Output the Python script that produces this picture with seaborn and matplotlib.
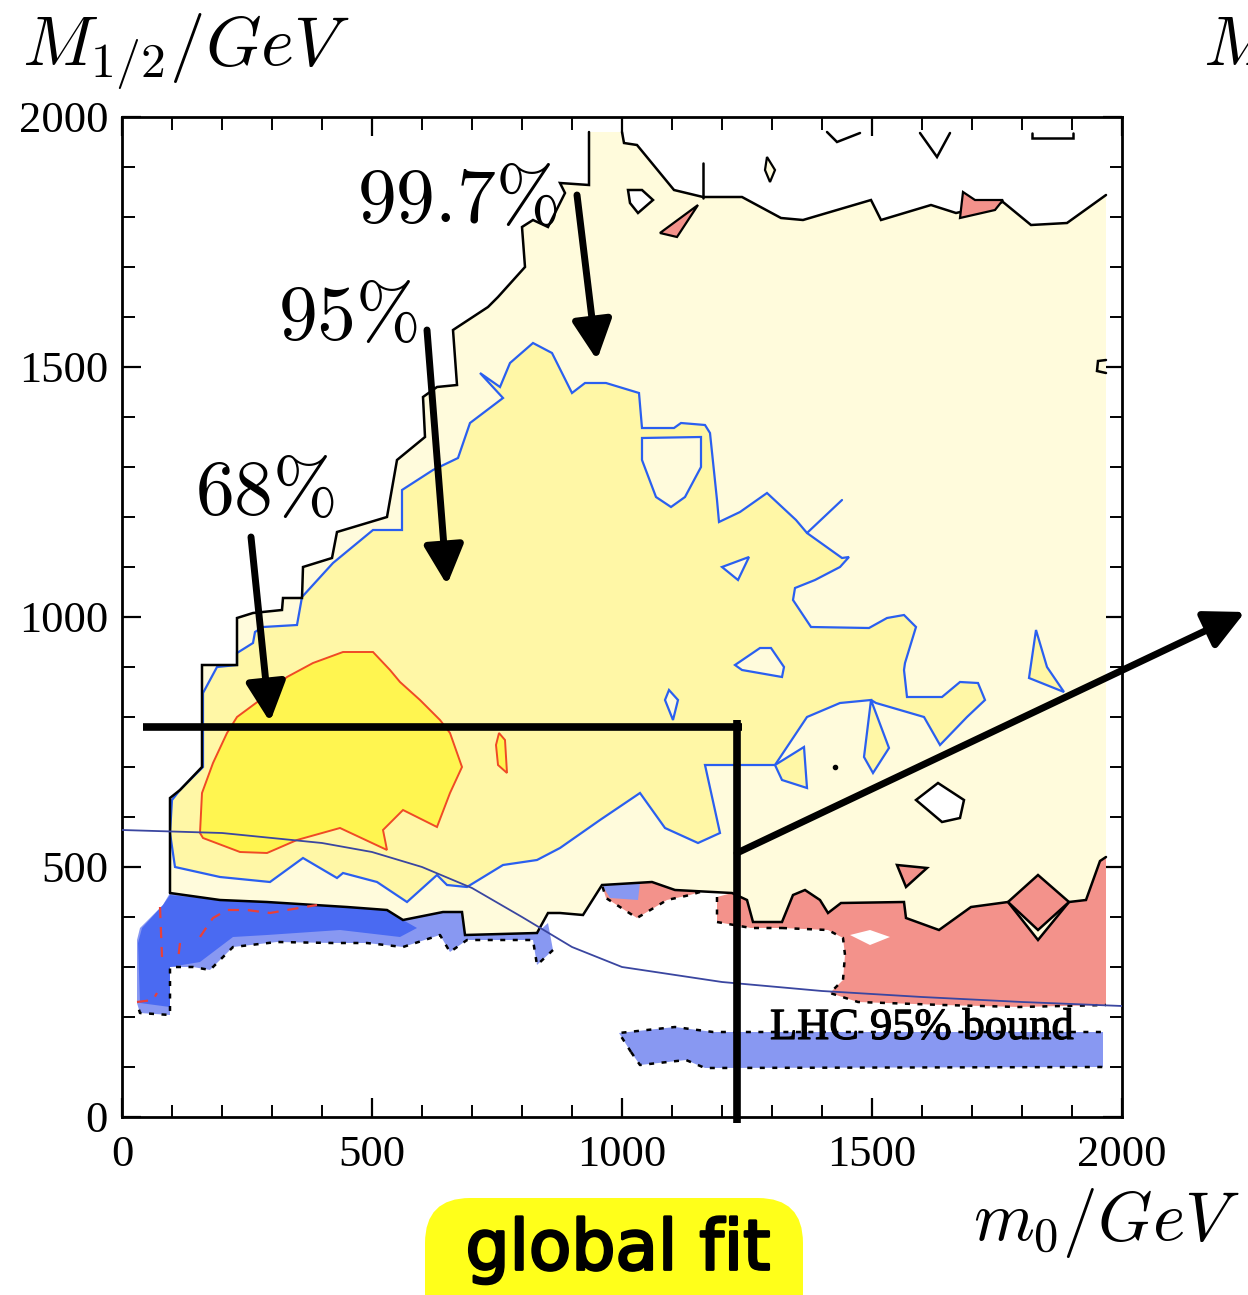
import numpy as np
import pandas as pd
import matplotlib
matplotlib.use("Agg")
import matplotlib.pyplot as plt
import matplotlib.patheffects as pe
import seaborn as sns
from matplotlib.ticker import MultipleLocator
from matplotlib.patches import FancyBboxPatch

# ---------------- data (GeV) ----------------
CL997_LEFT = [(96, 448), (96, 638), (116, 654), (160, 700), (160, 904), (230, 904), (230, 998),
              (262, 1008), (320, 1014), (322, 1038), (360, 1038), (362, 1100), (420, 1118),
              (430, 1170), (530, 1200), (550, 1314), (606, 1360), (602, 1440), (630, 1460),
              (670, 1464), (662, 1574), (732, 1620), (752, 1640), (806, 1700), (800, 1780),
              (822, 1794), (852, 1780), (866, 1808), (886, 1848), (876, 1868), (934, 1864), (934, 1970)]
CL997_TOP = [(1000, 1970), (1004, 1948), (1030, 1944), (1104, 1854), (1162, 1840), (1240, 1840),
             (1318, 1798), (1362, 1794), (1498, 1834), (1518, 1794), (1618, 1824), (1668, 1808),
             (1762, 1830), (1818, 1784), (1890, 1788), (1968, 1844)]
CL997_BOTTOM = [(1968, 520), (1956, 512), (1928, 434), (1894, 430), (1832, 354), (1772, 430),
                (1698, 420), (1634, 374), (1568, 398), (1564, 430), (1438, 428), (1412, 408),
                (1396, 434), (1366, 454), (1342, 444), (1320, 390), (1262, 390), (1250, 434),
                (1220, 448), (1106, 454), (1060, 470), (960, 464), (922, 404), (876, 408),
                (852, 408), (830, 368), (686, 364), (680, 410), (642, 410), (562, 394), (530, 414),
                (450, 420), (290, 430), (196, 434), (96, 448)]

CL95 = [(162, 700), (162, 848), (190, 900), (230, 904), (230, 928), (262, 948), (266, 970),
        (282, 980), (350, 984), (360, 1040), (422, 1108), (502, 1174), (560, 1174), (560, 1254),
        (622, 1294), (672, 1318), (696, 1388), (762, 1438), (716, 1488), (756, 1460), (776, 1508),
        (822, 1548), (860, 1528), (900, 1448), (926, 1468), (968, 1468), (1034, 1448),
        (1040, 1378), (1104, 1378), (1118, 1388), (1166, 1384), (1176, 1368), (1190, 1234),
        (1194, 1190), (1236, 1210), (1290, 1248), (1348, 1194), (1370, 1168), (1440, 1118),
        (1454, 1120), (1436, 1100), (1386, 1074), (1346, 1058), (1342, 1034), (1378, 980),
        (1494, 978), (1530, 998), (1564, 1004), (1588, 980), (1566, 908), (1564, 894),
        (1570, 840), (1640, 840), (1676, 870), (1712, 868), (1726, 834), (1690, 800),
        (1636, 744), (1604, 800), (1508, 828), (1498, 834), (1534, 738), (1502, 688),
        (1484, 720), (1498, 834), (1436, 828), (1370, 800), (1306, 704), (1166, 704),
        (1196, 568), (1152, 548), (1086, 578), (1036, 648), (956, 594), (876, 538), (830, 514),
        (762, 504), (690, 460), (650, 464), (630, 484), (570, 430), (510, 470), (442, 488),
        (430, 478), (362, 518), (296, 470), (196, 480), (106, 500), (96, 568), (100, 634),
        (116, 654)]
CL95_HOLES = [
    [(1040, 1358), (1158, 1360), (1158, 1300), (1126, 1240), (1098, 1220), (1068, 1240), (1040, 1314)],
    [(1200, 1100), (1254, 1120), (1232, 1074)],
    [(1226, 904), (1276, 938), (1298, 938), (1324, 900), (1320, 880), (1240, 894)],
    [(1094, 854), (1112, 834), (1102, 794), (1086, 834)],
]
CL95_ISLANDS = [
    [(1306, 704), (1364, 740), (1370, 658), (1320, 674)],
    [(1828, 974), (1850, 900), (1884, 850), (1814, 878)],
]
CL95_SPUR = [(1370, 1168), (1440, 1234)]

CL68 = [(156, 568), (160, 648), (182, 708), (210, 768), (230, 800), (276, 834), (330, 880),
        (382, 908), (442, 930), (502, 930), (536, 894), (556, 870), (596, 834), (636, 794),
        (656, 768), (680, 700), (656, 648), (630, 580), (562, 614), (522, 574), (530, 534),
        (436, 578), (350, 554), (290, 528), (236, 530), (162, 558)]
CL68_ISLAND = [(754, 768), (766, 754), (770, 688), (752, 704), (748, 744)]

PINK_MAIN = [(1968, 520), (1956, 512), (1928, 434), (1894, 430), (1832, 354), (1772, 430),
             (1698, 420), (1634, 374), (1568, 398), (1564, 430), (1438, 428), (1412, 408),
             (1396, 434), (1366, 454), (1342, 444), (1320, 390), (1320, 378), (1412, 374),
             (1442, 358), (1446, 324), (1442, 274), (1416, 248), (1472, 230), (1642, 224),
             (1794, 220), (1968, 224)]
PINK_MAIN_DOTS = [(1320, 378), (1412, 374), (1442, 358), (1446, 324), (1442, 274), (1416, 248),
                  (1472, 230), (1642, 224), (1794, 220), (1968, 224)]
PINK_HOLE = [(1456, 364), (1496, 374), (1536, 360), (1496, 344)]
PINK_SMALL1 = [(960, 464), (1060, 470), (1106, 454), (1156, 450), (1136, 444), (1090, 434),
               (1030, 398), (968, 438)]
PINK_SMALL1_DOTS = [(1156, 450), (1136, 444), (1090, 434), (1030, 398), (968, 438), (960, 464)]
PINK_SMALL2 = [(1190, 440), (1220, 448), (1250, 434), (1262, 390), (1320, 390), (1320, 378),
               (1258, 378), (1190, 390)]
PINK_SMALL2_DOTS = [(1190, 440), (1190, 390), (1258, 378), (1320, 378)]
BLUE_BIT = [(960, 464), (1036, 468), (1032, 434), (976, 438)]
DIAMOND = [(1772, 430), (1832, 484), (1894, 430), (1832, 374)]
PINK_TRI = [(1550, 504), (1610, 498), (1568, 460)]
WHITE_PENTA = [(1588, 634), (1632, 668), (1684, 634), (1676, 598), (1640, 590)]

BLUE_LIGHT = [(36, 378), (82, 424), (96, 448), (196, 434), (290, 430), (450, 420), (530, 414),
              (562, 394), (642, 410), (680, 410), (686, 364), (830, 368), (852, 388), (862, 334),
              (830, 304), (822, 354), (690, 354), (656, 330), (636, 364), (562, 340), (490, 348),
              (422, 348), (310, 350), (222, 340), (176, 294), (142, 300), (96, 300), (96, 204),
              (36, 208), (30, 228), (30, 354)]
BLUE_LIGHT_DOTS = [(862, 334), (830, 304), (822, 354), (690, 354), (656, 330), (636, 364),
                   (562, 340), (490, 348), (422, 348), (310, 350), (222, 340), (176, 294),
                   (142, 300), (96, 300), (96, 204), (36, 208), (30, 228)]
BLUE_DARK = [(40, 378), (82, 424), (96, 444), (196, 434), (290, 430), (450, 420), (530, 414),
             (562, 394), (590, 378), (556, 360), (436, 374), (290, 364), (222, 360), (156, 310),
             (96, 300), (96, 220), (36, 228), (32, 348)]
BLUE_RIGHT = [(994, 168), (1106, 180), (1182, 170), (1962, 170), (1962, 100), (1166, 98),
              (1128, 114), (1036, 104), (1018, 130)]
BLUE_RIGHT_DOTS_TOP = [(1018, 130), (994, 168), (1106, 180), (1182, 170), (1962, 170)]
BLUE_RIGHT_DOTS_BOT = [(1018, 130), (1036, 104), (1128, 114), (1166, 98), (1962, 100)]
RED_DASHES = [
    [(76, 420), (80, 320)],
    [(116, 348), (112, 314)],
    [(156, 360), (176, 390), (182, 398), (210, 414), (250, 414), (296, 408), (330, 414), (390, 424)],
    [(30, 230), (62, 234), (70, 248)],
]

TOP_HOLES = [[(1012, 1854), (1040, 1854), (1062, 1834), (1032, 1808), (1016, 1828)]]
TOP_PINK = [[(1076, 1768), (1152, 1824), (1110, 1760)],
            [(1682, 1850), (1706, 1834), (1762, 1834), (1746, 1814), (1676, 1798)]]
TOP_ELLIPSE = [(1290, 1920), (1306, 1894), (1296, 1870), (1286, 1894)]
TOP_LINES = [[(1162, 1908), (1162, 1838)],
             [(1596, 1968), (1630, 1920), (1656, 1968)],
             [(1820, 1968), (1820, 1958), (1902, 1958), (1902, 1968)],
             [(1410, 1970), (1430, 1950), (1476, 1968)],
             [(1968, 1514), (1952, 1512), (1950, 1492), (1968, 1488)]]
DOT = (1426, 700)

LHC_M0 = [0, 200, 400, 500, 600, 700, 800, 900, 1000, 1200, 1400, 1600, 1800, 2000]
LHC_M12 = [574, 568, 548, 530, 500, 458, 400, 340, 300, 270, 252, 240, 230, 222]

ARROWS = [((910, 1844), (950, 1514)), ((610, 1574), (650, 1064)), ((258, 1160), (296, 790)),
          ((1230, 528), (2246, 1010))]
HLINE = [(42, 780), (1240, 780)]
VLINE = [(1230, 794), (1230, -12)]

CL_LABELS = [(r"$99.7\%$", 470, 1828), (r"$95\%$", 312, 1594), (r"$68\%$", 146, 1244)]

# ---------------- colours ----------------
C997 = "#fffbdc"
C95 = "#fff7a6"
C68 = "#fff550"
CPINK = "#f3928b"
CBLUE_D = "#4a6af2"
CBLUE_L = "#8898f2"
CLINE_BLUE = "#2a5ff0"
CLINE_RED = "#f04a25"
CLHC = "#3a46a0"

sns.set_theme(style="white")
plt.rcParams["mathtext.fontset"] = "cm"
plt.rcParams["font.family"] = ["Liberation Serif", "DejaVu Serif"]
plt.rcParams["text.color"] = "black"
plt.rcParams["xtick.color"] = "black"
plt.rcParams["ytick.color"] = "black"
plt.rcParams["axes.labelcolor"] = "black"

fig = plt.figure(figsize=(12.48, 12.95), dpi=100)
ax = fig.add_axes([122 / 1248, 1 - 1117 / 1295, 1000 / 1248, 1000 / 1295])
ax.set_xlim(0, 2000)
ax.set_ylim(0, 2000)


def arr(p):
    a = np.array(p, dtype=float)
    return a[:, 0], a[:, 1]


def poly(p, fc, ec="none", lw=0, z=1, ls="-"):
    x, y = arr(p)
    ax.fill(x, y, facecolor=fc, edgecolor=ec, linewidth=lw, zorder=z, linestyle=ls)


def line(p, color="black", lw=1.6, z=5, ls="-", dashes=None):
    x, y = arr(p)
    l, = ax.plot(x, y, color=color, lw=lw, zorder=z, linestyle=ls, solid_joinstyle="miter")
    if dashes is not None:
        l.set_dashes(dashes)


# 99.7 % region
poly(CL997_LEFT + CL997_TOP + CL997_BOTTOM, C997, z=1)
# pink / blue excluded regions
poly(PINK_MAIN, CPINK, z=1.5)
poly(PINK_HOLE, "white", z=1.6)
poly(PINK_SMALL1, CPINK, z=1.5)
poly(PINK_SMALL2, CPINK, z=1.5)
poly(BLUE_BIT, CBLUE_L, z=1.6)
poly(BLUE_LIGHT, CBLUE_L, z=1.5)
poly(BLUE_DARK, CBLUE_D, z=1.6)
poly(BLUE_RIGHT, CBLUE_L, z=1.5)
# 95 % region
poly(CL95, C95, CLINE_BLUE, 1.6, z=2)
for h in CL95_HOLES:
    poly(h, C997, CLINE_BLUE, 1.6, z=2.1)
for h in CL95_ISLANDS:
    poly(h, C95, CLINE_BLUE, 1.6, z=2.1)
line(CL95_SPUR, CLINE_BLUE, 1.6, z=2.2)
# 68 % region
poly(CL68, C68, CLINE_RED, 1.4, z=3)
poly(CL68_ISLAND, C68, CLINE_RED, 1.4, z=3)

# black outline of 99.7 % region
line(CL997_LEFT, lw=1.8)
line(CL997_TOP, lw=1.8)
line(CL997_BOTTOM, lw=1.8)
for h in TOP_HOLES:
    poly(h, "white", "black", 1.8, z=5)
for h in TOP_PINK:
    poly(h, CPINK, "black", 1.6, z=5)
poly(TOP_ELLIPSE, C997, "black", 1.6, z=5)
for l in TOP_LINES:
    line(l, lw=1.8)
poly(DIAMOND, CPINK, "black", 1.8, z=5)
poly(PINK_TRI, CPINK, "black", 1.8, z=5)
poly(WHITE_PENTA, "white", "black", 1.8, z=5)
ax.plot([DOT[0]], [DOT[1]], "o", color="black", ms=3, zorder=5)

# dotted borders
for d in [PINK_MAIN_DOTS, PINK_SMALL1_DOTS, PINK_SMALL2_DOTS, BLUE_LIGHT_DOTS,
          BLUE_RIGHT_DOTS_TOP, BLUE_RIGHT_DOTS_BOT]:
    line(d, lw=1.8, z=5, dashes=(2.0, 3.0))
for d in RED_DASHES:
    line(d, color="#e8403a", lw=1.6, z=5, dashes=(5, 4))

# LHC 95% bound curve
lhc = pd.DataFrame({"m0": LHC_M0, "m12": LHC_M12})
sns.lineplot(data=lhc, x="m0", y="m12", ax=ax, color=CLHC, lw=1.3, zorder=6, sort=True)
ax.text(1296, 178, "LHC 95% bound", fontsize=32, family=["Liberation Serif"], color="black",
        ha="left", va="center", zorder=7,
        path_effects=[pe.withStroke(linewidth=0.8, foreground="black")])

# annotation lines & arrows
for tail, head in ARROWS:
    ax.annotate("", xy=head, xytext=tail, xycoords="data", textcoords="data",
                annotation_clip=False, zorder=10,
                arrowprops=dict(arrowstyle="-|>", lw=5, color="black", mutation_scale=60,
                                shrinkA=0, shrinkB=0))
x, y = arr(HLINE)
ax.plot(x, y, color="black", lw=5.5, zorder=10, solid_capstyle="butt")
x, y = arr(VLINE)
ax.plot(x, y, color="black", lw=5.5, zorder=10, clip_on=False, solid_capstyle="butt")

for txt, xx, yy in CL_LABELS:
    ax.text(xx, yy, txt, fontsize=56, ha="left", va="center", zorder=11, color="black")

# axes styling
ax.set_xlabel("")
ax.set_ylabel("")
ax.set_xticks([0, 500, 1000, 1500, 2000])
ax.set_yticks([0, 500, 1000, 1500, 2000])
ax.xaxis.set_minor_locator(MultipleLocator(100))
ax.yaxis.set_minor_locator(MultipleLocator(100))
ax.tick_params(which="major", direction="in", length=14, width=1.6, top=True, right=True,
               bottom=True, left=True, labelsize=32, color="black", labelcolor="black")
ax.tick_params(which="minor", direction="in", length=9, width=1.4, top=True, right=True,
               bottom=True, left=True, color="black")
ax.tick_params(axis="x", which="major", pad=13)
ax.tick_params(axis="y", which="major", pad=10)
for lab in ax.get_xticklabels() + ax.get_yticklabels():
    lab.set_family(["Liberation Serif"])
for s in ax.spines.values():
    s.set_visible(True)
    s.set_color("black")
    s.set_linewidth(2)
ax.set_facecolor("white")

# figure labels
fig.text(22 / 1248, 1 - 65 / 1295, r"$M_{1/2}/GeV$", fontsize=51, ha="left", va="baseline",
         color="black")
fig.text(1203 / 1248, 1 - 65 / 1295, r"$M_{1/2}/GeV$", fontsize=51, ha="left", va="baseline",
         color="black")
fig.text(1240 / 1248, 1 - 1240 / 1295, r"$m_0/GeV$", fontsize=50, ha="right", va="baseline",
         color="black")

box = FancyBboxPatch((425, -60), 378, 1295 - 1198 + 60, boxstyle="round,pad=0,rounding_size=45",
                     transform=None, facecolor="#ffff1a", edgecolor="none", zorder=0)
fig.patches.append(box)
fig.text(618 / 1248, 1 - 1250 / 1295, "global fit", fontsize=50, ha="center", va="center",
         family=["DejaVu Sans"], color="black",
         path_effects=[pe.withStroke(linewidth=2.0, foreground="black")])

fig.savefig("out.png", dpi=100)
